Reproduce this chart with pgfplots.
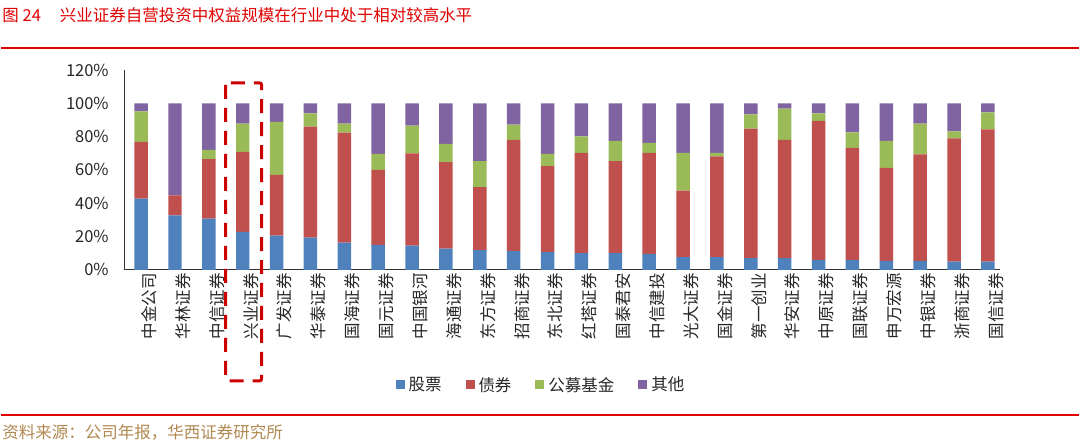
\documentclass[border=0pt]{standalone}
\usepackage{pgfplots}
\pgfplotsset{compat=1.18}
\usepackage{fontspec}
\setmainfont{Noto Sans CJK SC}
\definecolor{cBlue}{HTML}{4F81BD}
\definecolor{cRed}{HTML}{C0504D}
\definecolor{cGreen}{HTML}{9BBB59}
\definecolor{cPurple}{HTML}{8064A2}
\definecolor{titleRed}{HTML}{E00000}
\definecolor{boxRed}{HTML}{CC0000}
\definecolor{srcBrown}{HTML}{B08850}
\begin{document}
\begin{tikzpicture}[x=1pt,y=1pt]
\path (0,0) rectangle (1080,445);
% title
\node[anchor=west,text=titleRed,font=\fontsize{16.5}{18}\selectfont,inner sep=0] at (2,430) {图 24\hspace{19pt}兴业证券自营投资中权益规模在行业中处于相对较高水平};
\draw[titleRed,line width=2.5pt] (1,397) -- (1079,397);
\begin{axis}[
  at={(124pt,175pt)}, anchor=south west,
  scale only axis, width=876pt, height=200pt,
  ybar stacked, bar width=13.5pt,
  xmin=-0.5, xmax=25.35, ymin=0, ymax=120,
  axis lines=left, axis line style={-, line width=1pt, black!80},
  major tick length=0pt,
  ytick={0,20,40,60,80,100,120},
  yticklabels={0\%,20\%,40\%,60\%,80\%,100\%,120\%},
  yticklabel style={font=\fontsize{16.5}{18}\selectfont, text=black!85, xshift=-12pt},
  xtick=data,
  xticklabels={中金公司,华林证券,中信证券,兴业证券,广发证券,华泰证券,国海证券,国元证券,中国银河,海通证券,东方证券,招商证券,东北证券,红塔证券,国泰君安,中信建投,光大证券,国金证券,第一创业,华安证券,中原证券,国联证券,申万宏源,中银证券,浙商证券,国信证券},
  xticklabel style={rotate=90, anchor=east, font=\fontsize{16.5}{18}\selectfont, text=black!85, yshift=-8pt},
  legend style={at={(0.476,-0.575)}, anchor=center, draw=none, fill=none, legend columns=4,
    font=\fontsize{16.5}{18}\selectfont, text=black!85,
    /tikz/every even column/.append style={column sep=22pt}},
  myleg/.style={legend image code/.code={\fill[##1] (0pt,-4.5pt) rectangle (9pt,4.5pt); \path (11pt,0);}},
  clip=false,
]
\addplot[fill=cBlue, draw=none, myleg] coordinates {(0,42.7)(1,32.7)(2,30.7)(3,22.8)(4,20.6)(5,19.4)(6,16.4)(7,15.0)(8,14.6)(9,12.8)(10,11.8)(11,11.2)(12,10.6)(13,10.0)(14,10.0)(15,9.6)(16,7.6)(17,7.6)(18,7.0)(19,7.0)(20,6.0)(21,6.0)(22,5.4)(23,5.4)(24,5.0)(25,5.0)};
\addplot[fill=cRed, draw=none, myleg] coordinates {(0,34.1)(1,12.0)(2,35.8)(3,48.1)(4,36.5)(5,66.6)(6,66.0)(7,45.1)(8,55.3)(9,51.9)(10,37.9)(11,66.8)(12,51.7)(13,60.3)(14,55.3)(15,60.7)(16,39.9)(17,60.5)(18,77.8)(19,71.0)(20,83.4)(21,67.3)(22,55.9)(23,63.9)(24,74.0)(25,79.4)};
\addplot[fill=cGreen, draw=none, myleg] coordinates {(0,18.4)(1,0)(2,5.6)(3,16.9)(4,31.7)(5,8.0)(6,5.4)(7,9.6)(8,16.7)(9,10.9)(10,15.6)(11,9.2)(12,7.4)(13,9.9)(14,12.1)(15,5.9)(16,22.8)(17,2.2)(18,8.6)(19,18.8)(20,4.6)(21,9.3)(22,16.1)(23,18.5)(24,4.2)(25,10.2)};
\addplot[fill=cPurple, draw=none, myleg] coordinates {(0,4.8)(1,55.3)(2,27.9)(3,12.2)(4,11.2)(5,6.0)(6,12.2)(7,30.3)(8,13.4)(9,24.4)(10,34.7)(11,12.8)(12,30.3)(13,19.8)(14,22.6)(15,23.8)(16,29.7)(17,29.7)(18,6.6)(19,3.2)(20,6.0)(21,17.4)(22,22.6)(23,12.2)(24,16.8)(25,5.4)};
\legend{股票,债券,公募基金,其他}
\end{axis}
% highlight box
\draw[boxRed, line width=3pt, dash pattern=on 14pt off 9pt, rounded corners=2pt] (225.5,362) rectangle (261.5,64);
% source
\draw[titleRed,line width=2pt] (1,30) -- (1079,30);
\node[anchor=west,text=srcBrown,font=\fontsize{16.5}{18}\selectfont,inner sep=0] at (2,12) {资料来源：公司年报，华西证券研究所};
\end{tikzpicture}
\end{document}
